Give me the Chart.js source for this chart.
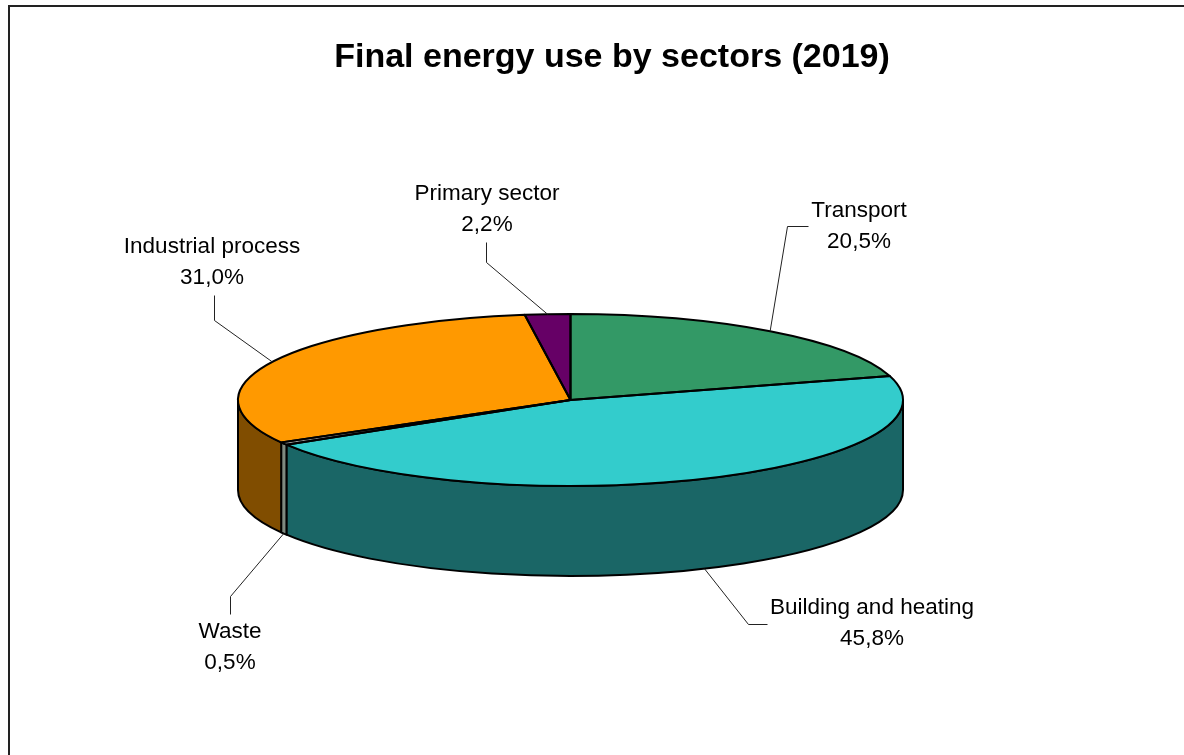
<!DOCTYPE html>
<html lang="en">
<head>
    <meta charset="UTF-8">
    <title>Final energy use by sectors (2019)</title>
    <script src="https://cdn.jsdelivr.net/npm/chart.js"></script>
    <style>
        html, body {
            margin: 0;
            height: 100%;
            background-color: #fff;
            overflow: hidden;
        }
        #marco {
            position: absolute;
            left: 8px;
            top: 5px;
            right: 0;
            bottom: 0;
            border-left: 2px solid #222;
            border-top: 2px solid #222;
        }
        #wrap {
            position: absolute;
            left: 0;
            top: 0;
            width: 1184px;
            height: 755px;
        }
    </style>
</head>
<body>
    <div id="marco"></div>
    <div id="wrap"><canvas id="myChart"></canvas></div>

    <script>
        const sectores = ['Transport', 'Building and heating', 'Waste', 'Industrial process', 'Primary sector'];
        const valores = [20.5, 45.8, 0.5, 31.0, 2.2];
        const coloresCara = ['#339966', '#33CCCC', '#969696', '#FF9900', '#660066'];
        const coloresLado = ['#1A4D33', '#1A6666', '#7F8A80', '#804D00', '#330033'];

        // Disc geometry on the page
        const disco = { x: 570.5, y: 400, rx: 332.5, ry: 86, alto: 90 };

        // Label centres and the elbow and end of each leader line
        const centrosEtiqueta = [[859, 211], [872, 608], [230, 632], [212, 247], [487, 194]];
        const codos = [[787, 226], [748, 624], [230, 596], [214, 320], [486, 262]];
        const finales = [[808, 226], [767, 624], [230, 614], [214, 295], [486, 242]];

        const INTERLINEA = 30.5;

        // The outer wall only shows on the front half of the ellipse (0..PI)
        function dibujarLados(ctx, arcos) {
            arcos.forEach((arco, i) => {
                const a = Math.max(arco.startAngle, 0);
                const b = Math.min(arco.endAngle, Math.PI);
                if (b <= a) return;
                ctx.beginPath();
                ctx.ellipse(disco.x, disco.y, disco.rx, disco.ry, 0, a, b);
                ctx.lineTo(disco.x + disco.rx * Math.cos(b), disco.y + disco.ry * Math.sin(b) + disco.alto);
                ctx.ellipse(disco.x, disco.y + disco.alto, disco.rx, disco.ry, 0, b, a, true);
                ctx.closePath();
                ctx.fillStyle = coloresLado[i];
                ctx.fill();
                ctx.stroke();
            });
        }

        function dibujarContornos(ctx, arcos) {
            arcos.forEach(arco => {
                ctx.beginPath();
                ctx.moveTo(disco.x, disco.y);
                ctx.ellipse(disco.x, disco.y, disco.rx, disco.ry, 0, arco.startAngle, arco.endAngle);
                ctx.closePath();
                ctx.stroke();
            });
        }

        function dibujarEtiquetas(ctx, arcos) {
            ctx.lineWidth = 1;
            ctx.strokeStyle = '#222';
            ctx.fillStyle = '#000';
            ctx.font = '22.5px "Liberation Sans", Arial, sans-serif';
            ctx.textAlign = 'center';
            ctx.textBaseline = 'middle';
            arcos.forEach((arco, i) => {
                const medio = (arco.startAngle + arco.endAngle) / 2;
                const frente = Math.sin(medio) > 0 ? disco.alto : 0;
                ctx.beginPath();
                ctx.moveTo(disco.x + disco.rx * Math.cos(medio), disco.y + disco.ry * Math.sin(medio) + frente);
                ctx.lineTo(codos[i][0] + 0.5, codos[i][1] + 0.5);
                ctx.lineTo(finales[i][0] + 0.5, finales[i][1] + 0.5);
                ctx.stroke();

                const porcentaje = valores[i].toFixed(1).replace('.', ',') + '%';
                ctx.fillText(sectores[i], centrosEtiqueta[i][0], centrosEtiqueta[i][1]);
                ctx.fillText(porcentaje, centrosEtiqueta[i][0], centrosEtiqueta[i][1] + INTERLINEA);
            });
        }

        // Squashes the flat pie into the top face of the disc and adds walls, outlines and labels
        const pastel3d = {
            id: 'pastel3d',
            beforeDatasetsDraw(chart) {
                const ctx = chart.ctx;
                const arcos = chart.getDatasetMeta(0).data;
                ctx.save();
                ctx.lineWidth = 2;
                ctx.lineJoin = 'round';
                ctx.strokeStyle = '#000';
                dibujarLados(ctx, arcos);
                ctx.restore();

                const arco = arcos[0];
                ctx.save();
                ctx.translate(disco.x, disco.y);
                ctx.scale(disco.rx / arco.outerRadius, disco.ry / arco.outerRadius);
                ctx.translate(-arco.x, -arco.y);
            },
            afterDatasetsDraw(chart) {
                const ctx = chart.ctx;
                const arcos = chart.getDatasetMeta(0).data;
                ctx.restore();

                ctx.save();
                ctx.lineWidth = 2;
                ctx.lineJoin = 'round';
                ctx.strokeStyle = '#000';
                dibujarContornos(ctx, arcos);
                dibujarEtiquetas(ctx, arcos);
                ctx.restore();
            }
        };

        new Chart(document.getElementById('myChart').getContext('2d'), {
            type: 'pie',
            data: {
                labels: sectores,
                datasets: [{
                    data: valores,
                    backgroundColor: coloresCara,
                    borderWidth: 0
                }]
            },
            options: {
                responsive: true,
                maintainAspectRatio: false,
                animation: false,
                events: [],
                layout: { padding: { left: 40 } },
                plugins: {
                    legend: { display: false },
                    tooltip: { enabled: false },
                    title: {
                        display: true,
                        text: 'Final energy use by sectors (2019)',
                        color: '#000',
                        font: { family: '"Liberation Sans", Arial, sans-serif', size: 34, weight: 'bold' },
                        padding: { top: 37, bottom: 10 }
                    }
                }
            },
            plugins: [pastel3d]
        });
    </script>
</body>
</html>
